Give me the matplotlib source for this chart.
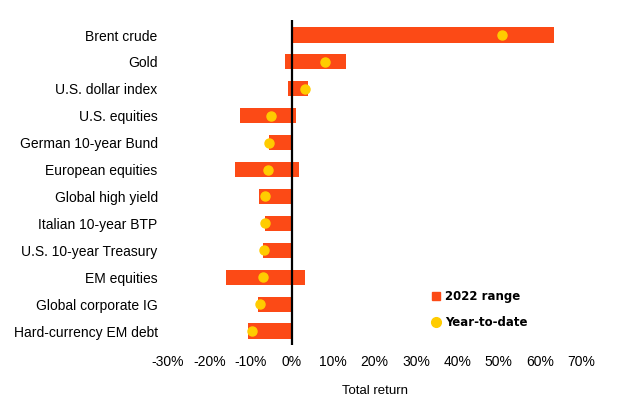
#!/usr/bin/env python3
"""2022 asset return ranges vs year-to-date"""
import matplotlib
matplotlib.use('Agg')
import matplotlib.pyplot as plt
from matplotlib.lines import Line2D

BAR_COLOR = '#FC4A16'
DOT_COLOR = '#FFCC00'

categories = ['Brent crude', 'Gold', 'U.S. dollar index', 'U.S. equities',
              'German 10-year Bund', 'European equities', 'Global high yield',
              'Italian 10-year BTP', 'U.S. 10-year Treasury', 'EM equities',
              'Global corporate IG', 'Hard-currency EM debt']
range_low = [0.3, -1.7, -1.0, -12.6, -5.6, -13.8, -8.0, -6.5, -7.0, -16.0, -8.2, -10.7]
range_high = [63.4, 13.1, 3.8, 1.0, 0.0, 1.6, 0.0, 0.0, 0.0, 3.1, 0.0, 0.0]
ytd = [50.9, 8.1, 3.2, -5.0, -5.5, -5.7, -6.5, -6.5, -6.7, -6.9, -7.7, -9.6]
xticks = [-30, -20, -10, 0, 10, 20, 30, 40, 50, 60, 70]

plt.rcParams['font.family'] = ['Liberation Sans', 'DejaVu Sans']

fig = plt.figure(figsize=(6.18, 4.04), dpi=100)
ax = fig.add_axes([0.2586, 0.146, 0.695, 0.804])

ypos = list(range(len(categories)))
widths = [h - l for l, h in zip(range_low, range_high)]
ax.barh(ypos, widths, left=range_low, height=0.56, color=BAR_COLOR, zorder=2)
ax.axvline(0, color='black', lw=1.6, zorder=3)
ax.plot(ytd, ypos, 'o', color=DOT_COLOR, markersize=6.5, zorder=4)

ax.set_xlim(-32, 72)
ax.set_ylim(len(categories) - 0.48, -0.55)
ax.set_yticks(ypos)
ax.set_yticklabels(categories, fontsize=10)
ax.set_xticks(xticks)
ax.set_xticklabels([f'{t}%' for t in xticks], fontsize=10)
ax.tick_params(axis='x', length=0, pad=7)
ax.tick_params(axis='y', length=0, pad=1.5)
for s in ax.spines.values():
    s.set_visible(False)
ax.set_xlabel('Total return', fontsize=9.5, labelpad=12)

handles = [Line2D([], [], marker='s', ls='none', color=BAR_COLOR, markersize=6),
           Line2D([], [], marker='o', ls='none', color=DOT_COLOR, markersize=7)]
ax.legend(handles, ['2022 range', 'Year-to-date'], loc='center left',
          bbox_to_anchor=(0.61, 0.11), frameon=False, handlelength=0.6,
          handletextpad=0.5, labelspacing=1.1,
          prop={'family': 'DejaVu Sans', 'weight': 'bold', 'size': 8.5})

fig.savefig('out.png', dpi=100, facecolor='white')
